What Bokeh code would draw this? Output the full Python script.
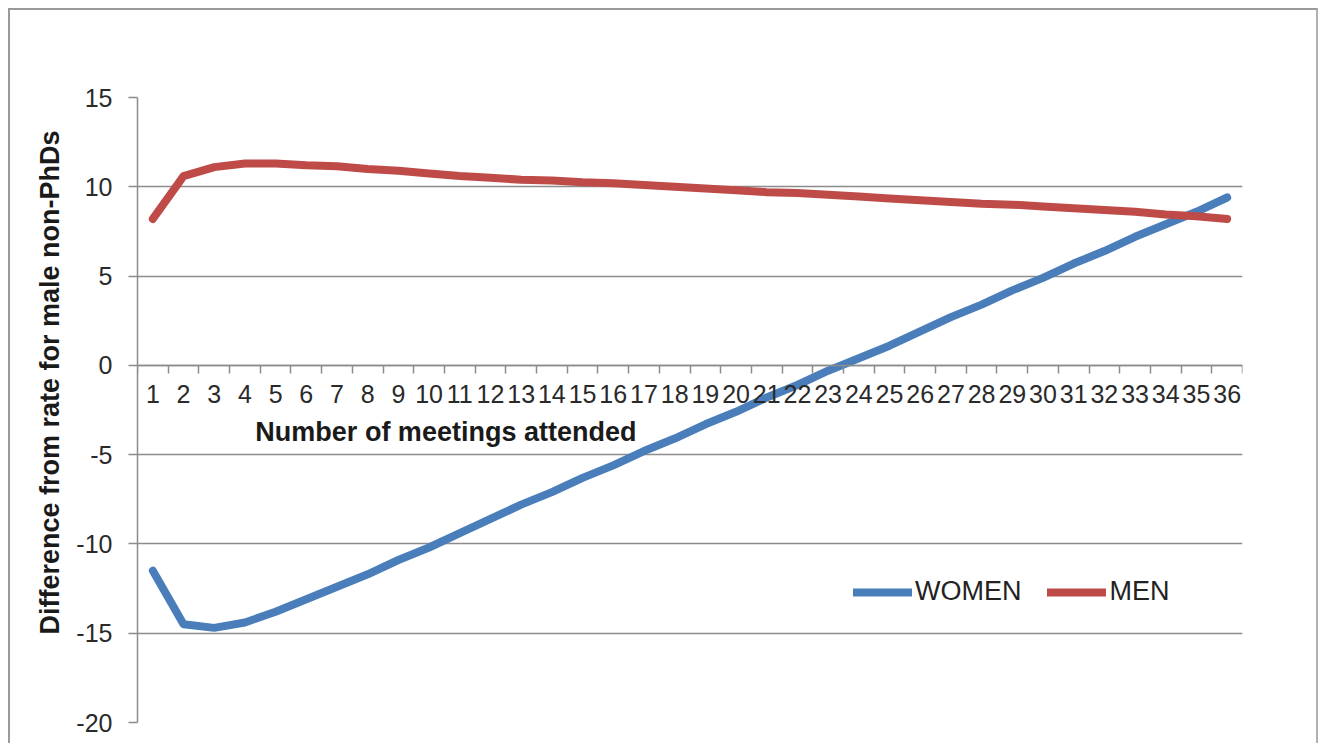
from bokeh.plotting import figure
from bokeh.models import FixedTicker, Legend, LegendItem, Label, Title, ColumnDataSource
from bokeh.embed import file_html
from bokeh.resources import INLINE

meetings = [1, 2, 3, 4, 5, 6, 7, 8, 9, 10, 11, 12, 13, 14, 15, 16, 17, 18,
            19, 20, 21, 22, 23, 24, 25, 26, 27, 28, 29, 30, 31, 32, 33, 34, 35, 36]
women = [-11.5, -14.5, -14.7, -14.4, -13.8, -13.1, -12.4, -11.7, -10.9, -10.2, -9.4, -8.6,
         -7.8, -7.1, -6.3, -5.6, -4.8, -4.1, -3.3, -2.6, -1.8, -1.1, -0.3, 0.4,
         1.1, 1.9, 2.7, 3.4, 4.2, 4.9, 5.7, 6.4, 7.2, 7.9, 8.6, 9.4]
men = [8.2, 10.6, 11.1, 11.3, 11.3, 11.2, 11.15, 11.0, 10.9, 10.75, 10.6, 10.5,
       10.4, 10.35, 10.25, 10.2, 10.1, 10.0, 9.9, 9.8, 9.7, 9.65, 9.55, 9.45,
       9.35, 9.25, 9.15, 9.05, 9.0, 8.9, 8.8, 8.7, 8.6, 8.45, 8.35, 8.2]
y_ticks = [-20, -15, -10, -5, 0, 5, 10, 15]
series_names = ["WOMEN", "MEN"]
series_colors = ["#4A7EBB", "#BE4B48"]
x_title = "Number of meetings attended"
y_title = "Difference from rate for male non-PhDs"

FONT = "Liberation Sans"
GRAY = "#8c8c8c"

src = ColumnDataSource(dict(x=meetings, women=women, men=men))

p = figure(width=1310, height=735, output_backend="svg", toolbar_location=None,
           x_range=(0.5, 36.5), y_range=(-20, 15),
           min_border_left=127, min_border_right=78, min_border_top=87, min_border_bottom=23)
p.styles = {"border-top": "2px solid #9a9a9a", "border-left": "2px solid #9a9a9a",
            "border-right": "2px solid #b0b0b0", "margin-left": "8px", "margin-top": "8px"}
p.outline_line_color = None
p.background_fill_color = "white"
p.border_fill_color = "white"

r_w = p.line("x", "women", source=src, line_width=8, line_color=series_colors[0],
             line_cap="round", line_join="round")
r_m = p.line("x", "men", source=src, line_width=8, line_color=series_colors[1],
             line_cap="round", line_join="round")

# x axis crossing at y = 0
xa = p.xaxis[0]
xa.fixed_location = 0
boundaries = [m - 0.5 for m in meetings] + [meetings[-1] + 0.5]
xa.ticker = FixedTicker(ticks=meetings, minor_ticks=boundaries)
xa.axis_line_color = GRAY
xa.axis_line_width = 1.5
xa.major_tick_line_color = None
xa.minor_tick_line_color = GRAY
xa.minor_tick_line_width = 1.5
xa.minor_tick_out = 8
xa.minor_tick_in = 0
xa.major_tick_out = 8
xa.major_label_standoff = 12
xa.major_label_text_font = FONT
xa.major_label_text_font_size = "25px"
xa.major_label_text_color = "#2a2a2a"

ya = p.yaxis[0]
ya.ticker = FixedTicker(ticks=y_ticks)
ya.major_label_overrides = {t: str(t) for t in y_ticks}
ya.axis_line_color = GRAY
ya.axis_line_width = 1.5
ya.major_tick_line_color = GRAY
ya.major_tick_line_width = 1.5
ya.major_tick_out = 9
ya.major_tick_in = 0
ya.minor_tick_line_color = None
ya.major_label_standoff = 16
ya.major_label_text_font = FONT
ya.major_label_text_font_size = "25px"
ya.major_label_text_color = "#2a2a2a"

p.xgrid.grid_line_color = None
p.ygrid.ticker = FixedTicker(ticks=y_ticks)
p.ygrid.grid_line_color = GRAY
p.ygrid.grid_line_width = 1.5

p.add_layout(Label(x=4.34, y=-3.75, text=x_title, text_font=FONT, text_font_size="27px",
                   text_font_style="bold", text_color="#1a1a1a",
                   text_align="left", text_baseline="middle"))
p.add_layout(Title(text=y_title, align="left", offset=88, standoff=18,
                   text_font=FONT, text_font_size="27px", text_font_style="bold",
                   text_color="#1a1a1a"), "left")

legend = Legend(items=[LegendItem(label=series_names[0], renderers=[r_w]),
                       LegendItem(label=series_names[1], renderers=[r_m])],
                orientation="horizontal", location=(716, 115),
                glyph_width=59, glyph_height=30, label_height=30, label_standoff=3,
                spacing=26, padding=0, margin=0, border_line_color=None,
                background_fill_alpha=0, label_text_font=FONT,
                label_text_font_size="27px", label_text_color="#222222")
p.add_layout(legend)

open("out.html", "w").write(file_html(p, INLINE))
